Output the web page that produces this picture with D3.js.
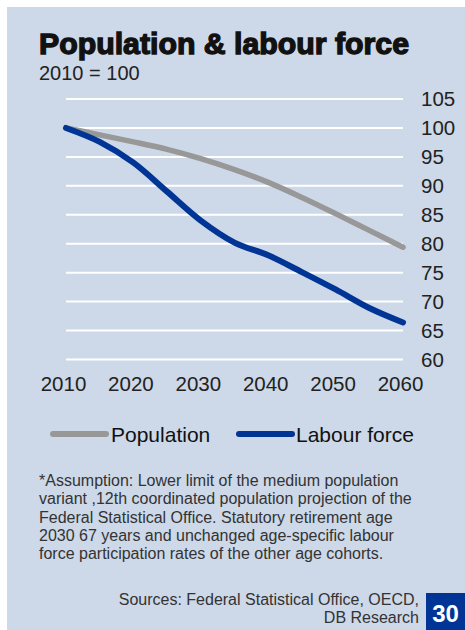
<!DOCTYPE html>
<html>
<head>
<meta charset="utf-8">
<script src="https://cdn.jsdelivr.net/npm/d3@7"></script>
<style>
  html, body { margin: 0; padding: 0; background: #fff; }
  svg { display: block; font-family: "Liberation Sans", Arial, sans-serif; }
</style>
</head>
<body>
<div id="chart"></div>
<script>
// values (index, 2010 = 100)
const years = [2010, 2015, 2020, 2025, 2030, 2035, 2040, 2045, 2050, 2055, 2060];
const population = [100, 98.8, 97.6, 96.3, 94.7, 92.8, 90.6, 88.0, 85.2, 82.3, 79.4];
const labourForce = [100, 97.6, 94.0, 89.0, 84.0, 80.2, 78.0, 75.1, 72.1, 68.9, 66.4];
const xTicks = [2010, 2020, 2030, 2040, 2050, 2060];
const yTicks = [60, 65, 70, 75, 80, 85, 90, 95, 100, 105];
const seriesNames = ['Population', 'Labour force'];
const footnote = [
  '*Assumption: Lower limit of the medium population',
  'variant ,12th coordinated population projection of the',
  'Federal Statistical Office. Statutory retirement age',
  '2030 67 years and unchanged age-specific labour',
  'force participation rates of the other age cohorts.'
];
const sources = ['Sources: Federal Statistical Office, OECD,', 'DB Research'];

const width = 465, height = 630;
const svg = d3.select('#chart').append('svg')
  .attr('width', width).attr('height', height);

// background panel
svg.append('rect')
  .attr('x', 7).attr('y', 7)
  .attr('width', width - 7).attr('height', height - 7)
  .attr('fill', '#cdd8e8');

svg.append('text')
  .attr('x', 39).attr('y', 54)
  .attr('font-size', 29).attr('font-weight', 'bold')
  .attr('fill', '#111').attr('stroke', '#111').attr('stroke-width', 1.3)
  .attr('textLength', 370).attr('lengthAdjust', 'spacingAndGlyphs')
  .text('Population & labour force');

svg.append('text')
  .attr('x', 39).attr('y', 80)
  .attr('font-size', 20).attr('fill', '#222')
  .text('2010 = 100');

const x = d3.scaleLinear().domain([2010, 2060]).range([66, 403]);
const y = d3.scaleLinear().domain([60, 105]).range([359.5, 99]);

// gridlines
svg.append('g')
  .selectAll('line')
  .data(yTicks)
  .join('line')
  .attr('x1', 66).attr('x2', 403)
  .attr('y1', d => y(d)).attr('y2', d => y(d))
  .attr('stroke', '#fff').attr('stroke-width', 2);

// y axis labels on the right
const yAxis = svg.append('g')
  .attr('transform', 'translate(421,0)')
  .call(d3.axisRight(y).tickValues(yTicks).tickSize(0).tickPadding(0));
yAxis.select('.domain').remove();
yAxis.selectAll('text')
  .attr('font-size', 20.5).attr('fill', '#222')
  .attr('font-family', '"Liberation Sans", Arial, sans-serif')
  .attr('text-anchor', 'start');

// x axis labels
const xAxis = svg.append('g')
  .attr('transform', 'translate(-3,376)')
  .call(d3.axisBottom(x).tickValues(xTicks).tickFormat(d3.format('d')).tickSize(0).tickPadding(0));
xAxis.select('.domain').remove();
xAxis.selectAll('text')
  .attr('font-size', 20.5).attr('fill', '#222')
  .attr('font-family', '"Liberation Sans", Arial, sans-serif');

const line = d3.line()
  .x((d, i) => x(years[i]))
  .y(d => y(d))
  .curve(d3.curveCatmullRom.alpha(0.5));

svg.append('path')
  .attr('d', line(population))
  .attr('fill', 'none').attr('stroke', '#989898')
  .attr('stroke-width', 5.5).attr('stroke-linecap', 'round');

svg.append('path')
  .attr('d', line(labourForce))
  .attr('fill', 'none').attr('stroke', '#003595')
  .attr('stroke-width', 6).attr('stroke-linecap', 'round');

// legend
const legendItems = [
  { name: seriesNames[0], color: '#989898', x1: 53, x2: 106, tx: 111 },
  { name: seriesNames[1], color: '#003595', x1: 239, x2: 292, tx: 296 }
];
const legend = svg.append('g');
legend.selectAll('line')
  .data(legendItems)
  .join('line')
  .attr('x1', d => d.x1).attr('x2', d => d.x2)
  .attr('y1', 434).attr('y2', 434)
  .attr('stroke', d => d.color).attr('stroke-width', 6)
  .attr('stroke-linecap', 'round');
legend.selectAll('text')
  .data(legendItems)
  .join('text')
  .attr('x', d => d.tx).attr('y', 441.5)
  .attr('font-size', 21).attr('fill', '#111')
  .text(d => d.name);

// footnote
svg.append('g')
  .selectAll('text')
  .data(footnote)
  .join('text')
  .attr('x', 39).attr('y', (d, i) => 486 + i * 18.3)
  .attr('font-size', 16).attr('fill', '#333')
  .text(d => d);

svg.append('g')
  .selectAll('text')
  .data(sources)
  .join('text')
  .attr('x', 419).attr('y', (d, i) => 605 + i * 18.3)
  .attr('text-anchor', 'end')
  .attr('font-size', 16).attr('fill', '#333')
  .text(d => d);

// page number box
svg.append('rect')
  .attr('x', 426).attr('y', 593)
  .attr('width', width - 426).attr('height', height - 593)
  .attr('fill', '#003595');
svg.append('text')
  .attr('x', 445.5).attr('y', 622)
  .attr('text-anchor', 'middle')
  .attr('font-size', 24).attr('font-weight', 'bold')
  .attr('fill', '#fff')
  .text('30');
</script>
</body>
</html>
